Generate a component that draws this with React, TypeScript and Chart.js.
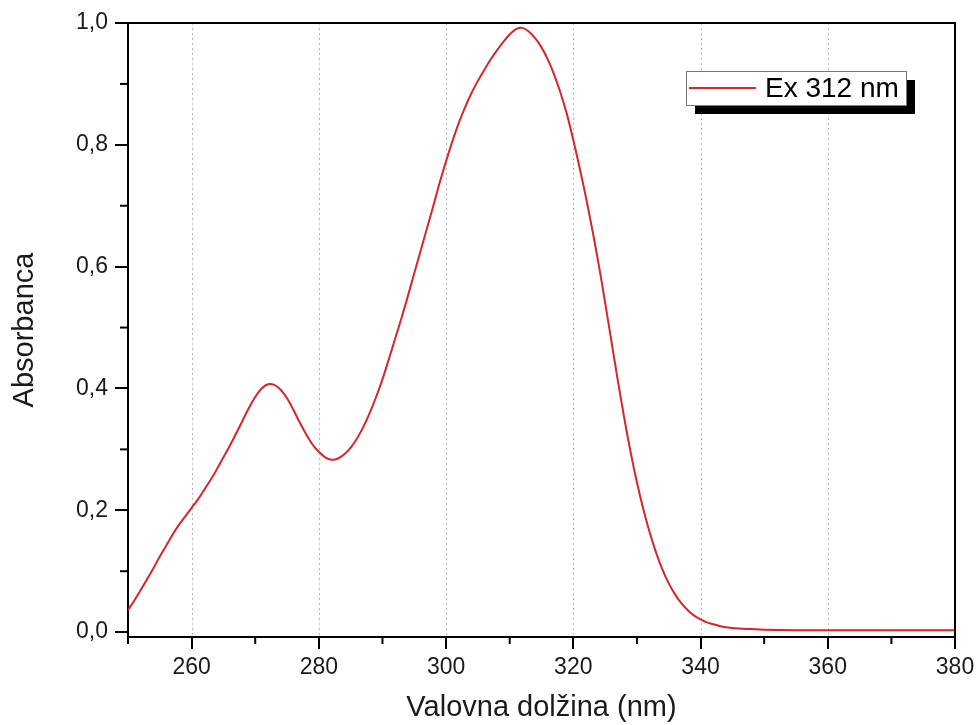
import React, { useEffect, useRef } from "react";
import { Chart, registerables } from "chart.js";

Chart.register(...registerables);

const wavelengths = [
  250, 251, 252, 253, 254, 255, 256, 257, 258, 259, 260, 261, 262, 263, 264, 265, 266, 267, 268,
  269, 270, 271, 272, 273, 274, 275, 276, 277, 278, 279, 280, 281, 282, 283, 284, 285, 286, 287,
  288, 289, 290, 291, 292, 293, 294, 295, 296, 297, 298, 299, 300, 301, 302, 303, 304, 305, 306,
  307, 308, 309, 310, 311, 312, 313, 314, 315, 316, 317, 318, 319, 320, 321, 322, 323, 324, 325,
  326, 327, 328, 329, 330, 331, 332, 333, 334, 335, 336, 337, 338, 339, 340, 341, 342, 343, 344,
  346, 348, 350, 355, 360, 370, 380,
];
const absorbance = [
  0.036, 0.052, 0.069, 0.087, 0.105, 0.124, 0.142, 0.16, 0.176, 0.19, 0.204, 0.218, 0.234, 0.25,
  0.268, 0.287, 0.306, 0.326, 0.347, 0.368, 0.386, 0.4, 0.407, 0.406, 0.398, 0.384, 0.365, 0.344,
  0.325, 0.308, 0.296, 0.287, 0.283, 0.285, 0.292, 0.303, 0.318, 0.337, 0.36, 0.386, 0.415, 0.448,
  0.482, 0.516, 0.552, 0.589, 0.626, 0.663, 0.7, 0.738, 0.773, 0.806, 0.836, 0.862, 0.885, 0.905,
  0.923, 0.94, 0.955, 0.969, 0.981, 0.99, 0.992, 0.986, 0.975, 0.96, 0.94, 0.915, 0.885, 0.85,
  0.808, 0.762, 0.713, 0.66, 0.603, 0.541, 0.477, 0.413, 0.352, 0.296, 0.246, 0.202, 0.164, 0.131,
  0.103, 0.08, 0.062, 0.047, 0.036, 0.027, 0.021, 0.016, 0.013, 0.01, 0.008, 0.006, 0.005, 0.004,
  0.003, 0.003, 0.003, 0.003,
];
const xMajorTicks = [260, 280, 300, 320, 340, 360, 380];
const xMinorTicks = [250, 270, 290, 310, 330, 350, 370];
const yMajorTicks = [0, 0.2, 0.4, 0.6, 0.8, 1.0];
const yMinorTicks = [0.1, 0.3, 0.5, 0.7, 0.9];
const seriesLabel = "Ex 312 nm";
const xTitle = "Valovna dolžina (nm)";
const yTitle = "Absorbanca";

const FONT = "'Liberation Sans', Arial, Helvetica, sans-serif";
const RED = "rgb(214, 38, 40)";

const decorPlugin = {
  id: "decor",
  beforeDatasetsDraw(chart: any) {
    const { ctx, chartArea, scales } = chart;
    const xs = scales.x;
    ctx.save();
    ctx.strokeStyle = "#b8b8b8";
    ctx.lineWidth = 1;
    ctx.setLineDash([2, 3]);
    xMajorTicks.forEach((v) => {
      if (v <= xs.min || v >= xs.max) return;
      const px = Math.round(xs.getPixelForValue(v)) + 0.5;
      ctx.beginPath();
      ctx.moveTo(px, chartArea.top);
      ctx.lineTo(px, chartArea.bottom);
      ctx.stroke();
    });
    ctx.restore();
  },
  afterDraw(chart: any) {
    const { ctx, chartArea, scales } = chart;
    const xs = scales.x;
    const ys = scales.y;
    ctx.save();
    ctx.strokeStyle = "#000";
    ctx.lineWidth = 2;
    ctx.setLineDash([]);
    ctx.beginPath();
    ctx.moveTo(chartArea.left, chartArea.top);
    ctx.lineTo(chartArea.right, chartArea.top);
    ctx.lineTo(chartArea.right, chartArea.bottom);
    ctx.stroke();
    xMinorTicks.forEach((v) => {
      const px = xs.getPixelForValue(v);
      ctx.beginPath();
      ctx.moveTo(px, chartArea.bottom);
      ctx.lineTo(px, chartArea.bottom + 7);
      ctx.stroke();
    });
    yMinorTicks.forEach((v) => {
      const py = ys.getPixelForValue(v);
      ctx.beginPath();
      ctx.moveTo(chartArea.left, py);
      ctx.lineTo(chartArea.left - 8, py);
      ctx.stroke();
    });
    const bw = 220;
    const bh = 34;
    const bx = chartArea.right - 269;
    const by = chartArea.top + 48;
    const sh = 9;
    ctx.fillStyle = "#000";
    ctx.fillRect(bx + sh, by + sh, bw, bh);
    ctx.fillStyle = "#fff";
    ctx.fillRect(bx, by, bw, bh);
    ctx.strokeStyle = "#777";
    ctx.lineWidth = 1;
    ctx.strokeRect(bx + 0.5, by + 0.5, bw, bh);
    const ds = chart.data.datasets[0];
    ctx.strokeStyle = ds.borderColor;
    ctx.lineWidth = 2;
    ctx.beginPath();
    ctx.moveTo(bx + 3, by + 17);
    ctx.lineTo(bx + 70, by + 17);
    ctx.stroke();
    ctx.fillStyle = "#000";
    ctx.font = `28px ${FONT}`;
    ctx.textBaseline = "middle";
    ctx.textAlign = "left";
    ctx.fillText(ds.label, bx + 79, by + 18);
    ctx.restore();
  },
};

export default function App() {
  const ref = useRef<HTMLCanvasElement | null>(null);
  useEffect(() => {
    if (!ref.current) return;
    const chart = new Chart(ref.current, {
      type: "line",
      data: {
        datasets: [
          {
            label: seriesLabel,
            data: wavelengths.map((w, i) => ({ x: w, y: absorbance[i] })),
            borderColor: RED,
            borderWidth: 2,
            pointRadius: 0,
            fill: false,
            tension: 0.3,
          },
        ],
      },
      options: {
        responsive: false,
        animation: false,
        events: [],
        layout: { padding: { left: 0, top: 23, right: 21, bottom: 0 } },
        plugins: { legend: { display: false }, tooltip: { enabled: false } },
        scales: {
          x: {
            type: "linear",
            min: 250,
            max: 380,
            afterBuildTicks: (s: any) => {
              s.ticks = xMajorTicks.map((v) => ({ value: v }));
            },
            afterFit: (s: any) => {
              s.height = 88;
              s.paddingLeft = 0;
              s.paddingRight = 0;
            },
            grid: {
              drawOnChartArea: false,
              drawTicks: true,
              tickLength: 12,
              tickColor: "#000",
              tickWidth: 2,
              lineWidth: 2,
              color: "#000",
            },
            border: { display: true, color: "#000", width: 2 },
            ticks: {
              autoSkip: false,
              maxRotation: 0,
              padding: 5,
              color: "#1a1a1a",
              font: { family: FONT, size: 23 },
              callback: (v: any) => String(v),
            },
            title: {
              display: true,
              text: xTitle,
              color: "#1a1a1a",
              font: { family: FONT, size: 29 },
              padding: { top: 0, bottom: 0 },
            },
          },
          y: {
            type: "linear",
            min: -0.008,
            max: 1.0,
            afterBuildTicks: (s: any) => {
              s.ticks = yMajorTicks.map((v) => ({ value: v }));
            },
            afterFit: (s: any) => {
              s.width = 128;
              s.paddingTop = 0;
              s.paddingBottom = 0;
            },
            grid: {
              drawOnChartArea: false,
              drawTicks: true,
              tickLength: 13,
              tickColor: "#000",
              tickWidth: 2,
              lineWidth: 2,
              color: "#000",
            },
            border: { display: true, color: "#000", width: 2 },
            ticks: {
              autoSkip: false,
              padding: 7,
              color: "#1a1a1a",
              font: { family: FONT, size: 23 },
              callback: (v: any) => Number(v).toFixed(1).replace(".", ","),
            },
            title: {
              display: true,
              text: yTitle,
              color: "#1a1a1a",
              font: { family: FONT, size: 29 },
              padding: { top: 8, bottom: 0 },
            },
          },
        },
      },
      plugins: [decorPlugin],
    } as any);
    return () => chart.destroy();
  }, []);
  return (
    <div style={{ position: "fixed", left: 0, top: 0, width: 976, height: 725, background: "#fff" }}>
      <canvas ref={ref} width={976} height={725} style={{ display: "block" }} />
    </div>
  );
}
